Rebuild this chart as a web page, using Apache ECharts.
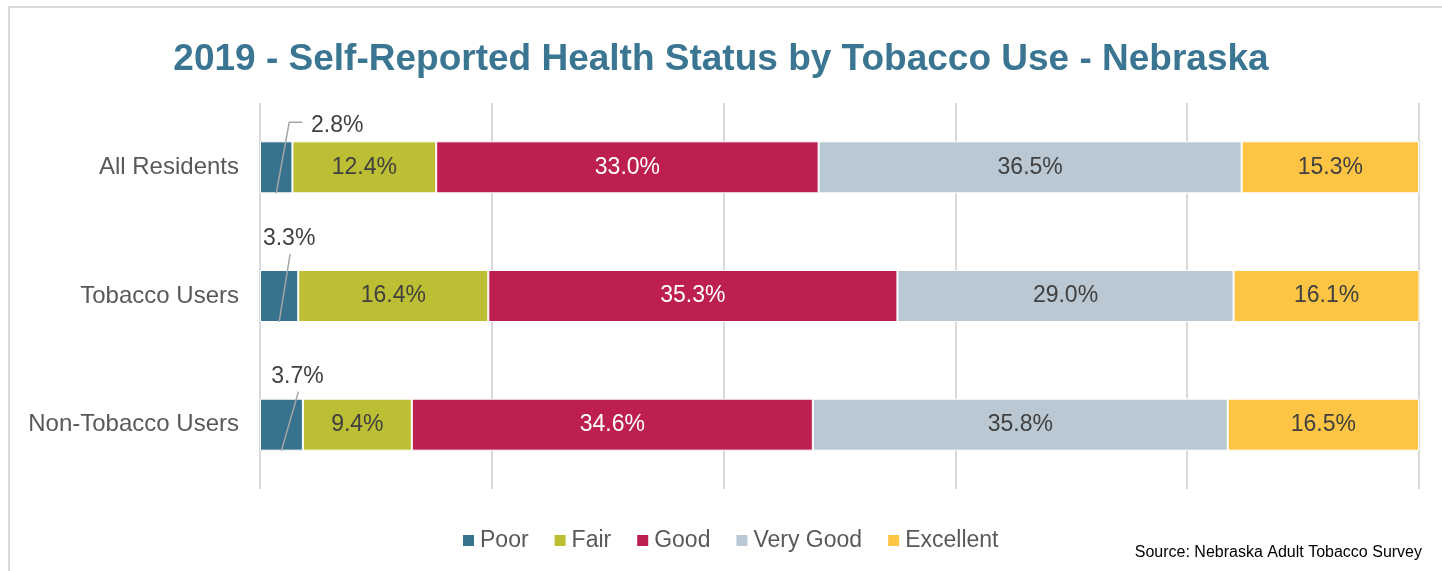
<!DOCTYPE html>
<html>
<head>
<meta charset="utf-8">
<script src="https://cdn.jsdelivr.net/npm/echarts@6/dist/echarts.min.js"></script>
<style>
  html, body { margin: 0; padding: 0; background: #fff; }
  #main { width: 1442px; height: 571px; }
</style>
</head>
<body>
<div id="main"></div>
<script>
var groups = ["All Residents", "Tobacco Users", "Non-Tobacco Users"];
var statusNames = ["Poor", "Fair", "Good", "Very Good", "Excellent"];
var poor = [2.8, 3.3, 3.7];
var fair = [12.4, 16.4, 9.4];
var good = [33.0, 35.3, 34.6];
var veryGood = [36.5, 29.0, 35.8];
var excellent = [15.3, 16.1, 16.5];

var colors = ["#37728f", "#bcbe34", "#bd1f51", "#bac8d3", "#fdc543"];
var values = [poor, fair, good, veryGood, excellent];

// where the small "Poor" labels sit, relative to their bar centre
var poorLabelShift = [[61, -42], [10, -57], [16, -48]];
var BAR_W = 52;

var myChart = echarts.init(document.getElementById("main"));

var series = values.map(function (vals, i) {
  return {
    name: statusNames[i],
    type: "bar",
    stack: "total",
    barWidth: BAR_W,
    data: vals,
    itemStyle: { color: colors[i], borderColor: "#fff", borderWidth: 1 },
    label: {
      show: i !== 0,
      position: "inside",
      formatter: function (p) { return p.value.toFixed(1) + "%"; },
      color: i === 2 ? "#fff" : "#404040",
      fontSize: 23,
      fontFamily: "Liberation Sans"
    }
  };
});

// Poor labels sit outside the bar with a leader line
series.push({
  type: "custom",
  z: 5,
  silent: true,
  data: poor.map(function (v, k) { return [v, k]; }),
  renderItem: function (params, api) {
    var k = params.dataIndex;
    var v = api.value(0);
    var p0 = api.coord([0, k]);
    var p1 = api.coord([v, k]);
    var mid = (p0[0] + p1[0]) / 2;
    var sh = poorLabelShift[k];
    var cx = mid + sh[0];
    var cy = p0[1] + sh[1];
    var start = [mid, p0[1] + BAR_W / 2];
    var pts = k === 0
      ? [start, [cx - 48, cy - 3], [cx - 35, cy - 3]]
      : [start, [cx + 1, cy + 15]];
    return {
      type: "group",
      children: [
        { type: "polyline", shape: { points: pts }, style: { stroke: "#a6a6a6", lineWidth: 1.5, fill: null } },
        {
          type: "text", x: cx, y: cy,
          style: { text: v.toFixed(1) + "%", align: "center", verticalAlign: "middle", fill: "#404040", font: "23px 'Liberation Sans'" }
        }
      ]
    };
  }
});

myChart.setOption({
  animation: false,
  color: colors,
  title: {
    text: "2019 - Self-Reported Health Status by Tobacco Use - Nebraska",
    left: "center",
    top: 36,
    textStyle: { color: "#3a7592", fontSize: 37, fontWeight: "bold", fontFamily: "Liberation Sans" }
  },
  legend: {
    bottom: 14,
    left: 456,
    itemWidth: 13,
    itemHeight: 13,
    itemGap: 24,
    icon: "rect",
    textStyle: { color: "#595959", fontSize: 23, fontFamily: "Liberation Sans" },
    data: statusNames
  },
  grid: { left: 260, right: 23, top: 103, bottom: 82 },
  xAxis: {
    type: "value",
    min: 0,
    max: 100,
    interval: 20,
    axisLabel: { show: false },
    axisLine: { show: false },
    axisTick: { show: false },
    splitLine: { lineStyle: { color: "#d9d9d9", width: 2 } }
  },
  yAxis: {
    type: "category",
    inverse: true,
    data: groups,
    axisLine: { show: false },
    axisTick: { show: false },
    axisLabel: { color: "#595959", fontSize: 24, margin: 21, fontFamily: "Liberation Sans" }
  },
  graphic: [
    {
      type: "polyline",
      shape: { points: [[9, 571], [9, 7], [1442, 7]] },
      style: { stroke: "#d9d9d9", lineWidth: 2, fill: null },
      silent: true
    },
    {
      type: "text",
      right: 20,
      top: 545,
      style: { text: "Source: Nebraska Adult Tobacco Survey", fill: "#000", font: "16px 'Liberation Sans'" }
    }
  ],
  series: series
});
</script>
</body>
</html>
